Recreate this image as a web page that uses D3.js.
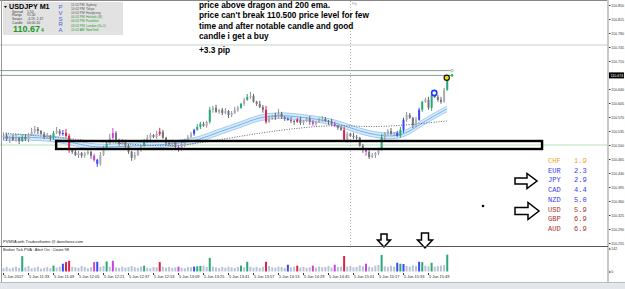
<!DOCTYPE html>
<html><head><meta charset="utf-8">
<script src="https://cdn.jsdelivr.net/npm/d3@7"></script>
<style>
body{margin:0;background:#fff}
svg{display:block}
text{font-family:"Liberation Sans",Arial,sans-serif}
text.mono{font-family:"Liberation Mono","Courier New",monospace}
</style>
</head><body><svg id="c" width="625" height="289"></svg>
<script>
// ---------------- DATA ----------------
const symbol = "USDJPY", timeframe = "M1";
const firstOpen = 110.520;
const closes = [
110.523,110.515,110.520,110.513, 110.518,110.510,110.520,110.515,
110.525,110.533,110.540,110.535, 110.528,110.520,110.523,110.518,
110.530,110.535,110.528,110.530, 110.523,110.488,110.483,110.475,
110.480,110.473,110.478,110.483, 110.473,110.463,110.453,110.475,
110.493,110.503,110.518,110.530, 110.513,110.503,110.508,110.498,
110.483,110.468,110.475,110.488, 110.498,110.510,110.518,110.525,
110.520,110.528,110.533,110.518, 110.505,110.503,110.508,110.495,
110.488,110.500,110.513,110.520, 110.528,110.538,110.545,110.553,
110.548,110.558,110.588,110.593, 110.583,110.588,110.580,110.585,
110.575,110.580,110.588,110.593, 110.603,110.613,110.620,110.623,
110.608,110.603,110.595,110.588, 110.558,110.568,110.573,110.570,
110.578,110.570,110.565,110.563, 110.560,110.558,110.563,110.555,
110.560,110.565,110.558,110.553, 110.558,110.563,110.565,110.560,
110.558,110.553,110.548,110.543, 110.538,110.513,110.528,110.523,
110.520,110.518,110.498,110.488, 110.483,110.470,110.475,110.480,
110.488,110.520,110.530,110.535, 110.528,110.530,110.523,110.538,
110.563,110.575,110.568,110.550, 110.563,110.588,110.608,110.613,
110.593,110.625,110.620,110.613, 110.608,110.638,110.670
];
// wick lengths in quarter-pips (0.0025)
const wickUp = [
2,3,1,2,4,1,2,3,2,4, 3,2,1,2,3,1,2,4,2,3, 4,2,1,3,2,1,2,3,1,2,
1,3,2,2,4,5,2,1,3,2, 2,1,3,2,1,2,3,2,1,3, 4,2,1,3,2,1,2,3,1,2,
2,1,3,2,2,1,3,2,3,1, 2,3,1,2,3,2,1,2,3,4, 2,1,3,2,4,2,1,3,5,2,
1,2,3,1,2,3,1,2,3,2, 1,2,3,2,1,3,2,1,2,3, 2,1,3,2,1,2,1,3,2,1,
2,3,1,2,3,1,2,3,2,3, 2,1,3,2,1,2,3,2,1,2, 3,2,2];
const wickDown = [
3,2,4,1,2,3,1,2,3,1, 2,3,1,2,1,3,2,1,2,2, 2,3,2,1,3,2,2,1,3,2,
3,2,1,2,1,2,3,2,1,2, 2,3,2,1,2,1,2,3,1,2, 2,1,3,2,3,1,2,1,2,3,
1,2,1,2,1,2,2,3,1,2, 2,1,3,2,1,2,1,2,1,2, 1,2,1,3,2,1,2,3,1,2,
2,1,2,3,1,2,2,1,3,2, 2,1,2,1,3,2,1,2,1,2, 3,1,2,2,1,3,4,2,1,3,
2,1,3,2,1,2,1,2,3,2, 1,3,2,1,2,1,2,3,1,2, 2,1,1];
const volumes = [
20,28,18,24,30,22,95,26,34,20, 25,30,18,22,27,20,36,24,30,48,
58,66,30,26,22,34,28,20,26,58, 60,28,34,62,30,66,26,22,30,24,
28,34,26,22,30,36,24,20,28,26, 58,30,24,28,22,26,30,24,20,28,
26,30,32,34,36,28,84,30,26,22, 28,24,30,26,22,28,36,26,60,30,
24,28,22,30,60,34,26,24,30,28, 22,42,26,30,36,24,28,22,26,36,
24,30,26,28,34,24,42,28,30,96, 30,34,26,28,38,32,48,30,26,36,
40,102,32,28,36,30,54,48,46,34, 30,38,34,60,58,36,32,54,30,34,
36,40,104];
// PVSRA coloured bars (bar indices)
const climaxBull = [6,16,33,45,62,63,66,76,78,121,127,134,137,142];
const climaxBear = [20,21,50,84,94,109];
const risingBull = [19,30,61,91,126,128,133];
const risingBear = [29,35,56,99,106,116];
// Dragon (EMA34 high/close/low) and EMA200
const dragonIdx  = [0,9,18,25,31,41,50,57,63,69,76,82,89,95,105,111,117,124,129,133,138,142];
const dragonMid  = [110.518,110.520,110.515,110.500,110.493,110.498,110.500,110.505,110.513,110.533,110.550,110.570,110.575,110.570,110.560,110.543,110.528,110.520,110.528,110.550,110.573,110.590];
const dragonHigh = [110.525,110.527,110.522,110.507,110.500,110.505,110.507,110.512,110.520,110.540,110.557,110.577,110.582,110.577,110.567,110.550,110.535,110.527,110.535,110.557,110.580,110.597];
const dragonLow  = [110.511,110.513,110.508,110.493,110.486,110.491,110.493,110.498,110.506,110.526,110.543,110.563,110.568,110.563,110.553,110.536,110.521,110.513,110.521,110.543,110.566,110.583];
const emaIdx = [0,16,31,47,57,67,82,95,106,117,127,142];
const ema200 = [110.530,110.520,110.508,110.498,110.498,110.510,110.530,110.543,110.550,110.545,110.548,110.560];
// axes
const priceTicks = [110.850,110.815,110.780,110.745,110.710,110.675,110.640,110.605,110.570,110.535,110.500,110.465,110.430,110.395,110.360,110.325,110.290,110.255];
const dateIdx = [0,8,16,24,32,40,48,56,64,72,80,88,96,104,112,120,128,136];
const dateLabels = ["5 Jun 2017","5 Jun 11:33","5 Jun 11:49","5 Jun 12:05","5 Jun 12:21","5 Jun 12:37","5 Jun 12:53","5 Jun 13:09","5 Jun 13:25","5 Jun 13:41","5 Jun 13:57","5 Jun 14:13","5 Jun 14:29","5 Jun 14:45","5 Jun 15:01","5 Jun 15:17","5 Jun 15:33","5 Jun 15:49"];
const currentPrice = 110.674, askLine = 110.686, targetLine = 110.750, supportLevel = 110.500;
const boxTop = 110.510, boxBottom = 110.490, boxStart = 17, boxEnd = 172.5;
const entryIdx = 138, entryPrice = 110.630, exitIdx = 142, exitPrice = 110.668;
const volMax = 142;
// notes
const noteLines = ["price above dragon and 200 ema.","price can't break 110.500 price level for few","time and after notable candle and good","candle i get a buy"];
const resultNote = "+3.3 pip";
// currency strength
const currencies = ["CHF","EUR","JPY","CAD","NZD","USD","GBP","AUD"];
const strengths  = [1.9,2.3,2.9,4.4,5.0,5.9,6.9,6.9];
const strengthColors = ["#f0a030","#3a3af0","#3a3af0","#3a3af0","#3a3af0","#a83232","#a83232","#a83232"];
// info panel
const infoLabels = ["Spread","Range","Swaps","Candle"];
const infoValues = ["1.50","91.40","-4.19, 2.47","00:00:20"];
const sessTimes = ["11:02 PM","10:02 PM","10:02 PM","04:02 PM","04:02 PM","03:02 PM","10:02 AM"];
const sessNames = ["Sydney","Tokyo","Hongkong","Helsinki (B)","Frankfurt","London (G+1)","NewYork"];
const sessOpen  = [false,false,false,true,true,true,true];

// ---------------- DRAW ----------------
const svg = d3.select("#c");
const x = d3.scaleLinear().domain([0,142]).range([3,446.75]);
const y = d3.scaleLinear().domain([110.255,110.850]).range([243,5]);
const vy = d3.scaleLinear().domain([0,volMax]).range([271.5,248.5]);

svg.append("rect").attr("width",625).attr("height",289).attr("fill","#fff");

const main = svg.append("g");
// horizontal levels
main.append("line").attr("x1",0).attr("x2",608).attr("y1",y(targetLine)).attr("y2",y(targetLine)).attr("stroke","#c4d2c4").attr("stroke-width",1);
main.append("line").attr("x1",0).attr("x2",608).attr("y1",y(supportLevel)).attr("y2",y(supportLevel)).attr("stroke","#b8e2b8").attr("stroke-width",1);
main.append("line").attr("x1",0).attr("x2",x(143.7)).attr("y1",y(askLine)).attr("y2",y(askLine)).attr("stroke","#8e9a9a").attr("stroke-width",1);
main.append("line").attr("x1",0).attr("x2",x(143.7)).attr("y1",y(currentPrice)).attr("y2",y(currentPrice)).attr("stroke","#8e9a9a").attr("stroke-width",1);
main.append("circle").attr("cx",x(143.7)).attr("cy",y(askLine)).attr("r",1.3).attr("fill","#fff").attr("stroke","#999").attr("stroke-width",0.7);
main.append("circle").attr("cx",x(143.7)).attr("cy",y(currentPrice)).attr("r",1.3).attr("fill","#2c2");

// vertical dotted separator
main.append("line").attr("x1",350.5).attr("x2",350.5).attr("y1",1).attr("y2",246).attr("stroke","#b0b0b0").attr("stroke-dasharray","1,2");

// dragon band
const dPts = dragonIdx.map((d,i)=>({i:d,h:dragonHigh[i],m:dragonMid[i],l:dragonLow[i]}));
main.append("path").datum(dPts)
  .attr("d",d3.area().x(d=>x(d.i)).y0(d=>y(d.l)).y1(d=>y(d.h)).curve(d3.curveBasis))
  .attr("fill","#d6eafb");
[["h","#a0ccf2",1],["l","#a0ccf2",1],["m","#72b0ec",1]].forEach(([k,c,w])=>{
  main.append("path").datum(dPts)
    .attr("d",d3.line().x(d=>x(d.i)).y(d=>y(d[k])).curve(d3.curveBasis))
    .attr("fill","none").attr("stroke",c).attr("stroke-width",w);
});
// EMA200
main.append("path").datum(emaIdx.map((d,i)=>({i:d,v:ema200[i]})))
  .attr("d",d3.line().x(d=>x(d.i)).y(d=>y(d.v)).curve(d3.curveBasis))
  .attr("fill","none").attr("stroke","#555").attr("stroke-width",0.9).attr("stroke-dasharray","1,1.5");

// candles
const colorOf = i => climaxBull.includes(i) ? "#2aa87a" : climaxBear.includes(i) ? "#e0204a" :
  risingBull.includes(i) ? "#3b46f5" : risingBear.includes(i) ? "#cc44dd" : null;
const candles = closes.map((c,i)=>{
  const o = i===0 ? firstOpen : closes[i-1];
  return {i,o,c,h:Math.max(o,c)+wickUp[i]*0.0025,l:Math.min(o,c)-wickDown[i]*0.0025,col:colorOf(i)};
});
const cg = main.append("g").selectAll("g").data(candles).join("g");
cg.append("line").attr("x1",d=>x(d.i)+0.5).attr("x2",d=>x(d.i)+0.5)
  .attr("y1",d=>y(d.h)).attr("y2",d=>y(d.l))
  .attr("stroke",d=>d.col || (d.c>=d.o ? "#90909a":"#66666e")).attr("stroke-width",1);
cg.append("rect").attr("x",d=>x(d.i)-0.5).attr("width",2)
  .attr("y",d=>y(Math.max(d.o,d.c))).attr("height",d=>Math.max(1,Math.abs(y(d.o)-y(d.c))))
  .attr("fill",d=>d.col || (d.c>=d.o ? "#acacb4":"#74747c"));

// rectangle around 110.500
main.append("rect").attr("x",x(boxStart)).attr("y",y(boxTop))
  .attr("width",x(boxEnd)-x(boxStart)).attr("height",y(boxBottom)-y(boxTop))
  .attr("fill","none").attr("stroke","#000").attr("stroke-width",2.4);

// entry / exit markers
main.append("circle").attr("cx",x(entryIdx)).attr("cy",y(entryPrice)).attr("r",2.6)
  .attr("fill","#fff").attr("stroke","#1a3cff").attr("stroke-width",1.6);
main.append("circle").attr("cx",x(exitIdx)).attr("cy",y(exitPrice)).attr("r",2.6)
  .attr("fill","#f2e000").attr("stroke","#111").attr("stroke-width",1.2);

// borders
svg.append("line").attr("x1",0).attr("x2",608).attr("y1",0.5).attr("y2",0.5).attr("stroke","#888");
svg.append("line").attr("x1",1.5).attr("x2",1.5).attr("y1",0).attr("y2",282).attr("stroke","#999");
svg.append("rect").attr("x",607).attr("y",0).attr("width",2).attr("height",282).attr("fill","#c8c8c8");

// price axis (label under the current-price tag is hidden, as in the terminal)
const pAxis = svg.append("g").attr("transform","translate(609,0)")
  .call(d3.axisRight(y).tickValues(priceTicks.filter(v=>Math.abs(v-currentPrice)>0.005))
    .tickSize(1.5).tickPadding(0.8).tickFormat(d3.format(".3f")));
pAxis.select(".domain").remove();
pAxis.selectAll("text").attr("font-size",3.6).attr("fill","#333");
pAxis.selectAll("line").attr("stroke","#333");
// current price tag
svg.append("rect").attr("x",609).attr("y",y(currentPrice)-3).attr("width",15).attr("height",6).attr("fill","#000");
svg.append("text").attr("x",610.5).attr("y",y(currentPrice)+1.4).attr("font-size",3.6).attr("fill","#fff").text(d3.format(".3f")(currentPrice));

// notes
const nt = svg.append("g").attr("font-weight","bold").attr("font-size",8.3).attr("fill","#000");
noteLines.forEach((t,i)=>nt.append("text").attr("x",199).attr("y",7.5+i*10.5).text(t));
nt.append("text").attr("x",199).attr("y",53).text(resultNote);
svg.append("text").attr("x",352).attr("y",5).attr("font-size",3.5).attr("fill","#999").text("Pip");

// info panel
const ip = svg.append("g");
ip.append("rect").attr("x",3).attr("y",2).attr("width",120).attr("height",33).attr("fill","#e2e2e2");
ip.append("path").attr("d","M4,6 L7,6 L5.5,8 Z").attr("fill","#000");
ip.append("text").attr("x",9).attr("y",9).attr("font-size",7.2).attr("font-weight","bold").text(symbol+"   "+timeframe);
infoLabels.forEach((t,i)=>{
  ip.append("text").attr("x",12).attr("y",12.5+i*3.7).attr("font-size",3.4).attr("fill","#444").text(t);
  ip.append("text").attr("x",27).attr("y",12.5+i*3.7).attr("font-size",3.4).attr("fill","#444").text(infoValues[i]);
});
ip.append("text").attr("x",13).attr("y",32).attr("font-size",9).attr("font-weight","bold").attr("fill","#1e9a2a").text(currentPrice.toFixed(2));
ip.append("text").attr("x",41).attr("y",32).attr("font-size",5).attr("font-weight","bold").attr("fill","#1e9a2a").text(String(Math.round(currentPrice*1000)%10));
"PVSRA".split("").forEach((ch,i)=>ip.append("text").attr("x",58.5).attr("y",9+i*5.8).attr("font-size",6).attr("fill","#4b5bd6").text(ch));
sessTimes.forEach((t,i)=>{
  const col = sessOpen[i] ? "#2a9a2a" : "#555";
  ip.append("text").attr("x",71).attr("y",5.5+i*4.2).attr("font-size",3.2).attr("fill",col).text(t);
  ip.append("text").attr("x",86).attr("y",5.5+i*4.2).attr("font-size",3.2).attr("fill",col).text(sessNames[i]);
});

// currency strength table
const ct = svg.append("g");
currencies.forEach((c,i)=>{
  ct.append("text").attr("class","mono").attr("font-size",7).attr("x",548).attr("y",163+i*9.7).attr("fill",strengthColors[i]).text(c);
  ct.append("text").attr("class","mono").attr("font-size",7).attr("x",574).attr("y",163+i*9.7).attr("fill",strengthColors[i]).text(d3.format(".1f")(strengths[i]));
});

// arrows
function rightArrow(x0,yc,bl,bh,hl,hh){return `M${x0},${yc-bh/2}L${x0+bl},${yc-bh/2}L${x0+bl},${yc-hh/2}L${x0+bl+hl},${yc}L${x0+bl},${yc+hh/2}L${x0+bl},${yc+bh/2}L${x0},${yc+bh/2}Z`;}
function downArrow(xc,y0,bw,bl,hw,hl){return `M${xc-bw/2},${y0}L${xc+bw/2},${y0}L${xc+bw/2},${y0+bl}L${xc+hw/2},${y0+bl}L${xc},${y0+bl+hl}L${xc-hw/2},${y0+bl}L${xc-bw/2},${y0+bl}Z`;}
[rightArrow(515,181,12,6,10,15),rightArrow(515,211,13,7,11,17),downArrow(384,234,6,6,13,7),downArrow(425,233,7,7,15,8)]
  .forEach(d=>svg.append("path").attr("d",d).attr("fill","#fff").attr("stroke","#000").attr("stroke-width",1.5).attr("stroke-linejoin","miter"));
svg.append("circle").attr("cx",483).attr("cy",206).attr("r",1.3).attr("fill","#000");

// indicator captions
svg.append("text").attr("x",3).attr("y",242.5).attr("font-size",4).attr("fill","#222").text("PVSRA with Tradersthome @ dannforex.com");

// volume subwindow
svg.append("line").attr("x1",0).attr("x2",608).attr("y1",246.5).attr("y2",246.5).attr("stroke","#555");
svg.append("text").attr("x",3).attr("y",251).attr("font-size",4).attr("fill","#222").text("Broker Tick PVA :  Alert On :  Count 98");
svg.append("g").selectAll("rect").data(volumes).join("rect")
  .attr("x",(d,i)=>x(i)-0.5).attr("width",2)
  .attr("y",d=>vy(d)).attr("height",d=>vy(0)-vy(d))
  .attr("fill",(d,i)=>colorOf(i) || "#b9c3d6");
const vAxis = svg.append("g").attr("transform","translate(609,0)")
  .call(d3.axisRight(vy).tickValues([0,volMax]).tickSize(1.5).tickPadding(0.8));
vAxis.select(".domain").remove();
vAxis.selectAll("text").attr("font-size",3.6).attr("fill","#333");

// time axis
const tAxis = svg.append("g").attr("transform","translate(0,273)")
  .call(d3.axisBottom(x).tickValues(dateIdx).tickSize(2).tickPadding(0.5).tickFormat((d,i)=>dateLabels[i]));
tAxis.select(".domain").remove();
tAxis.selectAll("text").attr("font-size",3.9).attr("fill","#222").attr("text-anchor","start").attr("dx",0.5);
tAxis.selectAll("line").attr("stroke","#333");

// bottom strip
svg.append("rect").attr("x",0).attr("y",282).attr("width",625).attr("height",7).attr("fill","#e4e7eb");
svg.append("line").attr("x1",0).attr("x2",625).attr("y1",282.5).attr("y2",282.5).attr("stroke","#b8bcc2");
</script></body></html>
